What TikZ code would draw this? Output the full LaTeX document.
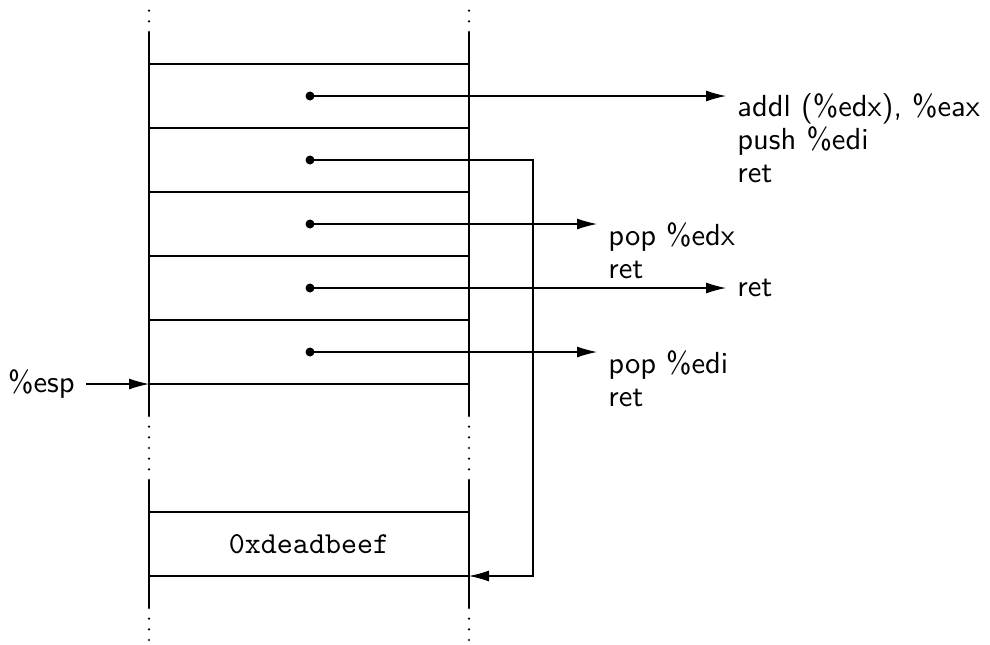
\documentclass[tikz,border=0pt]{standalone}
\usepackage{fontspec}
\setsansfont{lmsans10-regular.otf}
\setmonofont{lmmono10-regular.otf}
\usetikzlibrary{arrows.meta}
\begin{document}
\begin{tikzpicture}[x=0.5pt,y=-0.5pt,
  stackline/.style={line width=1pt},
  dotline/.style={line width=1.2pt, line cap=round, dash pattern=on 0pt off 5.333pt},
  ptr/.style={line width=0.55pt,-{Latex[length=10pt,width=5.5pt]}},
  bullet/.style={circle,fill,inner sep=0pt,minimum size=4.5pt},
  lbl/.style={font=\sffamily\fontsize{15.25}{16.5}\selectfont, inner xsep=5.5pt, inner ysep=1pt, align=left},
  val/.style={font=\ttfamily\fontsize{15.25}{16.5}\selectfont, inner sep=0pt}]
\useasboundingbox (0,0) rectangle (990,644);
% stack coordinates
\coordinate (ltop) at (149,32);   \coordinate (rtop) at (469,32);
\coordinate (lmid) at (149,416);  \coordinate (rmid) at (469,416);
\coordinate (lbot) at (149,480);  \coordinate (rbot) at (469,480);
\coordinate (lend) at (149,608);  \coordinate (rend) at (469,608);
% dotted continuations
\draw[dotline] (ltop) -- (149,10);
\draw[dotline] (rtop) -- (469,10);
\draw[dotline] (lmid) -- (lbot);
\draw[dotline] (rmid) -- (rbot);
\draw[dotline] (lend) -- (149,644);
\draw[dotline] (rend) -- (469,644);
% upper stack
\draw[stackline] (ltop) -- (lmid);
\draw[stackline] (rtop) -- (rmid);
\foreach \y/\n in {64/1,128/2,192/3,256/4,320/5,384/6}{
  \coordinate (s\n l) at (149,\y);
  \coordinate (s\n r) at (469,\y);
  \draw[stackline] (s\n l) -- (s\n r);
}
% lower stack
\draw[stackline] (lbot) -- (lend);
\draw[stackline] (rbot) -- (rend);
\coordinate (b1l) at (149,512); \coordinate (b1r) at (469,512);
\coordinate (b2l) at (149,576); \coordinate (b2r) at (469,576);
\draw[stackline] (b1l) -- (b1r);
\draw[stackline] (b2l) -- (b2r);
\node[val] (beef) at (309,544) {0xdeadbeef};
% bullets
\node[bullet] (d1) at (310,96) {};
\node[bullet] (d2) at (310,160) {};
\node[bullet] (d3) at (310,224) {};
\node[bullet] (d4) at (310,288) {};
\node[bullet] (d5) at (310,352) {};
% labels
\node[lbl,anchor=north west,yshift=2.5pt] (t1) at (726,96) {addl (\%edx), \%eax\\push \%edi\\ret};
\node[lbl,anchor=north west,yshift=2pt] (t2) at (597,224) {pop \%edx\\ret};
\node[lbl,anchor=west] (t3) at (726,288) {ret};
\node[lbl,anchor=north west,yshift=2pt] (t4) at (597,352) {pop \%edi\\ret};
\node[lbl,anchor=east] (esp) at (86,384) {\%esp};
% pointers
\draw[ptr] (d1.center) -- (t1.west |- d1);
\draw[ptr] (d3.center) -- (t2.west |- d3);
\draw[ptr] (d4.center) -- (t3.west);
\draw[ptr] (d5.center) -- (t4.west |- d5);
\coordinate (loop) at (533,160);
\draw[ptr] (d2.center) -- (loop) |- (b2r);
\draw[ptr] (esp) -- (s6l);
\end{tikzpicture}
\end{document}
